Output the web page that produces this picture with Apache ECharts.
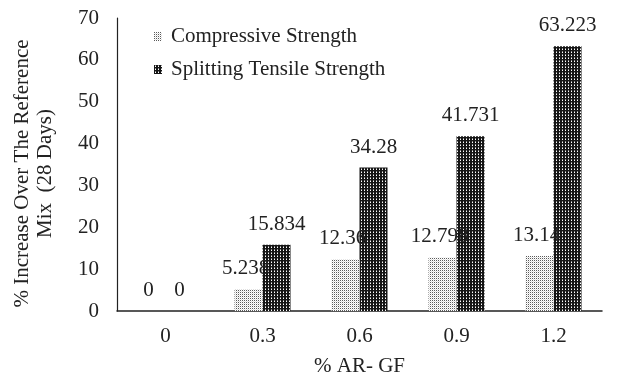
<!DOCTYPE html>
<html>
<head>
<meta charset="utf-8">
<script src="https://cdn.jsdelivr.net/npm/echarts@6/dist/echarts.min.js"></script>
<style>
  html, body { margin: 0; padding: 0; background: #fff; }
  #chart { width: 619px; height: 382px; }
</style>
</head>
<body>
<div id="chart"></div>
<script>
// AR-GF dosage (%) along the x axis
const categories = ['0', '0.3', '0.6', '0.9', '1.2'];
// % increase over the reference mix at 28 days
const compressive = [0, 5.238, 12.36, 12.798, 13.14];
const splitting = [0, 15.834, 34.28, 41.731, 63.223];
const seriesNames = ['Compressive Strength', 'Splitting Tensile Strength'];
const yTicks = { min: 0, max: 70, interval: 10 };

const FONT = '"Liberation Serif", "DejaVu Serif", serif';
const INK = '#222';

// Stipple fill: grey dots on white
function lightDots() {
  const c = document.createElement('canvas');
  c.width = 2; c.height = 2;
  const g = c.getContext('2d');
  g.fillStyle = '#ffffff'; g.fillRect(0, 0, 2, 2);
  g.fillStyle = '#5a5a5a'; g.fillRect(0, 0, 1, 1);
  g.fillStyle = '#dddddd'; g.fillRect(1, 1, 1, 1);
  return c;
}
// Dense fill: black with small white holes
function darkGrid() {
  const c = document.createElement('canvas');
  c.width = 3; c.height = 3;
  const g = c.getContext('2d');
  g.fillStyle = '#151515'; g.fillRect(0, 0, 3, 3);
  g.fillStyle = '#ffffff'; g.fillRect(1, 1, 1, 1);
  g.fillStyle = '#8a8a8a'; g.fillRect(1, 0, 1, 1);
  return c;
}

const chart = echarts.init(document.getElementById('chart'), null, { renderer: 'canvas' });

const labelStyle = {
  show: true,
  position: 'top',
  distance: 10,
  color: INK,
  fontFamily: FONT,
  fontSize: 21
};

chart.setOption({
  animation: false,
  backgroundColor: '#ffffff',
  textStyle: { fontFamily: FONT },
  grid: { left: 117, right: 17, top: 18, bottom: 68, containLabel: false },
  legend: {
    orient: 'vertical',
    left: 149,
    top: 21,
    itemWidth: 8,
    itemHeight: 9,
    itemGap: 12,
    icon: 'rect',
    textStyle: { fontFamily: FONT, fontSize: 21, color: INK, padding: [0, 0, 0, 4] },
    data: seriesNames
  },
  xAxis: {
    type: 'category',
    data: categories,
    name: '% AR- GF',
    nameLocation: 'middle',
    nameGap: 45,
    nameTextStyle: { fontFamily: FONT, fontSize: 21, color: INK },
    axisLine: { lineStyle: { color: INK, width: 1.5 } },
    axisTick: { show: false },
    axisLabel: { fontFamily: FONT, fontSize: 21, color: INK, margin: 15 }
  },
  yAxis: {
    type: 'value',
    min: yTicks.min,
    max: yTicks.max,
    interval: yTicks.interval,
    name: '% Increase Over The Reference\nMix  (28 Days)',
    nameLocation: 'middle',
    nameRotate: 90,
    nameGap: 60,
    nameTextStyle: {
      fontFamily: FONT, fontSize: 21, color: INK, lineHeight: 23,
      padding: [0, 18, 0, 0]
    },
    axisLine: { show: true, lineStyle: { color: INK, width: 1.2 } },
    axisTick: { show: false },
    splitLine: { show: false },
    axisLabel: { fontFamily: FONT, fontSize: 21, color: INK, margin: 18 }
  },
  series: [
    {
      name: seriesNames[0],
      type: 'bar',
      zlevel: 1,
      data: compressive,
      barWidth: 28,
      barGap: '0%',
      itemStyle: { color: { image: lightDots(), repeat: 'repeat' } },
      label: Object.assign({}, labelStyle, { offset: [-3, 0] })
    },
    {
      name: seriesNames[1],
      type: 'bar',
      data: splitting,
      barWidth: 28,
      barGap: '0%',
      itemStyle: { color: { image: darkGrid(), repeat: 'repeat' } },
      label: labelStyle
    }
  ]
});
</script>
</body>
</html>
